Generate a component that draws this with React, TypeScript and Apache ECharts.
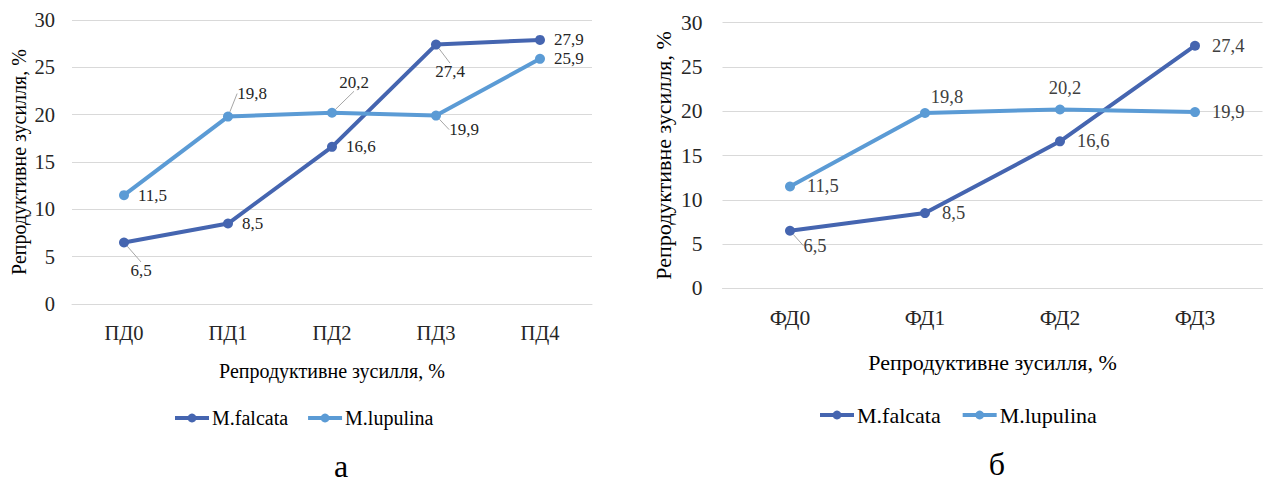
import { useEffect, useRef } from "react";
import * as echarts from "echarts";

// Panel "а": ПД gradations
const categoriesA = ["ПД0", "ПД1", "ПД2", "ПД3", "ПД4"];
const falcataA = [6.5, 8.5, 16.6, 27.4, 27.9];
const lupulinaA = [11.5, 19.8, 20.2, 19.9, 25.9];

// Panel "б": ФД gradations
const categoriesB = ["ФД0", "ФД1", "ФД2", "ФД3"];
const falcataB = [6.5, 8.5, 16.6, 27.4];
const lupulinaB = [11.5, 19.8, 20.2, 19.9];

const seriesNames = ["M.falcata", "M.lupulina"];
const axisTitle = "Репродуктивне зусилля, %";
const panelCaptions = ["а", "б"];
const yMin = 0;
const yMax = 30;
const yStep = 5;

// Label offsets (px from the point) for labels that sit away from their point
type Place = { dx: number; dy: number; line: boolean } | null;
const placeFalcataA: Place[] = [
  { dx: 17, dy: 28, line: true },
  null,
  null,
  { dx: 14, dy: 27, line: true },
  null,
];
const placeLupulinaA: Place[] = [
  null,
  { dx: 24, dy: -23, line: true },
  { dx: 22, dy: -30, line: true },
  { dx: 28, dy: 14, line: true },
  null,
];
const placeFalcataB: Place[] = [{ dx: 25, dy: 15, line: true }, null, null, null];
const placeLupulinaB: Place[] = [
  null,
  { dx: 22, dy: -16, line: false },
  { dx: 5, dy: -21, line: false },
  null,
];

const COLOR_FALCATA = "#4565b0";
const COLOR_LUPULINA = "#5b9bd5";
const FONT = '"Liberation Serif", "Times New Roman", serif';

const fmt = (v: number) => v.toFixed(1).replace(".", ",");

function buildPoints(values: number[], place: Place[], distance: number) {
  return values.map((v, i) => {
    const p = place[i];
    if (!p) {
      return { value: v, label: { position: "right", distance } };
    }
    return {
      value: v,
      label: { position: "inside" },
      labelLine: { show: p.line },
    };
  });
}

export default function App() {
  const ref = useRef<HTMLDivElement>(null);

  useEffect(() => {
    document.body.style.margin = "0";
    if (!ref.current) return;
    const chart = echarts.init(ref.current, undefined, { renderer: "svg" });

    const placements: Place[][] = [placeFalcataA, placeLupulinaA, placeFalcataB, placeLupulinaB];

    const lineSeries = (
      name: string,
      values: number[],
      place: Place[],
      axis: number,
      color: string,
      labelColor: string,
      fontSize: number,
      distance: number
    ) => ({
      type: "line",
      name,
      xAxisIndex: axis,
      yAxisIndex: axis,
      data: buildPoints(values, place, distance),
      symbol: "circle",
      symbolSize: 10,
      lineStyle: { color, width: 4 },
      itemStyle: { color },
      label: {
        show: true,
        formatter: (p: any) => fmt(p.value),
        color: labelColor,
        fontFamily: FONT,
        fontSize,
      },
      labelLine: { show: false, lineStyle: { color: "#a6a6a6", width: 1 } },
      labelLayout: (params: any) => {
        const p = placements[params.seriesIndex]?.[params.dataIndex];
        return p ? { dx: p.dx, dy: p.dy } : {};
      },
    });

    const xAxis = (idx: number, cats: string[], fontSize: number, labelMargin: number, nameGap: number, nameSize: number) => ({
      type: "category",
      gridIndex: idx,
      data: cats,
      boundaryGap: true,
      axisLine: { show: true, lineStyle: { color: "#d9d9d9", width: 1 } },
      axisTick: { show: false },
      axisLabel: { color: "#262626", fontFamily: FONT, fontSize, margin: labelMargin },
      name: axisTitle,
      nameLocation: "middle",
      nameGap,
      nameTextStyle: { color: "#000", fontFamily: FONT, fontSize: nameSize },
    });

    const yAxis = (idx: number, fontSize: number, labelMargin: number, nameGap: number, nameSize: number) => ({
      type: "value",
      gridIndex: idx,
      min: yMin,
      max: yMax,
      interval: yStep,
      axisLine: { show: false },
      axisTick: { show: false },
      splitLine: { lineStyle: { color: "#d9d9d9", width: 1 } },
      axisLabel: { color: "#262626", fontFamily: FONT, fontSize, margin: labelMargin },
      name: axisTitle,
      nameLocation: "middle",
      nameGap,
      nameTextStyle: { color: "#000", fontFamily: FONT, fontSize: nameSize },
    });

    chart.setOption({
      animation: false,
      grid: [
        { left: 72, top: 20, width: 520, height: 284 },
        { left: 722.5, top: 22.7, width: 540, height: 265.6 },
      ],
      xAxis: [
        xAxis(0, categoriesA, 20.5, 18, 57, 20),
        xAxis(1, categoriesB, 21.5, 19, 63, 22),
      ],
      yAxis: [yAxis(0, 20.5, 17, 43, 20), yAxis(1, 21.5, 20, 48, 22)],
      legend: [
        {
          data: seriesNames,
          left: 168,
          top: 403,
          itemWidth: 34,
          itemHeight: 11,
          itemGap: 18,
          lineStyle: { width: 4 },
          textStyle: { color: "#000", fontFamily: FONT, fontSize: 20, padding: [0, 0, 0, -2] },
        },
        {
          data: seriesNames,
          left: 813,
          top: 399,
          itemWidth: 34,
          itemHeight: 11,
          itemGap: 20,
          lineStyle: { width: 4 },
          textStyle: { color: "#000", fontFamily: FONT, fontSize: 22, padding: [0, 0, 0, -2] },
        },
      ],
      series: [
        lineSeries(seriesNames[0], falcataA, placeFalcataA, 0, COLOR_FALCATA, "#262626", 17, 9),
        lineSeries(seriesNames[1], lupulinaA, placeLupulinaA, 0, COLOR_LUPULINA, "#262626", 17, 9),
        lineSeries(seriesNames[0], falcataB, placeFalcataB, 1, COLOR_FALCATA, "#404040", 18.5, 12),
        lineSeries(seriesNames[1], lupulinaB, placeLupulinaB, 1, COLOR_LUPULINA, "#404040", 18.5, 12),
      ],
      graphic: [
        {
          type: "text",
          x: 341,
          y: 466,
          style: {
            text: panelCaptions[0],
            font: `32px ${FONT}`,
            fill: "#000",
            textAlign: "center",
            textVerticalAlign: "middle",
          },
        },
        {
          type: "text",
          x: 997,
          y: 464,
          style: {
            text: panelCaptions[1],
            font: `32px ${FONT}`,
            fill: "#000",
            textAlign: "center",
            textVerticalAlign: "middle",
          },
        },
      ],
    });

    return () => chart.dispose();
  }, []);

  return <div ref={ref} style={{ width: 1263, height: 483 }} />;
}
